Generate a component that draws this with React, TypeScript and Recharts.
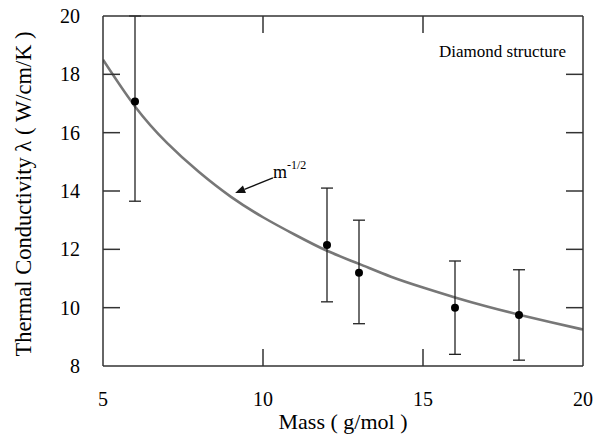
import React from 'react';
import { ComposedChart, XAxis, YAxis, Line, Scatter, ErrorBar, ReferenceLine, ReferenceDot } from 'recharts';

const massPoints = [6, 12, 13, 16, 18];
const conductivity = [17.07, 12.15, 11.2, 10.0, 9.75];
const errLow = [3.42, 1.95, 1.75, 1.6, 1.55];
const errHigh = [2.93, 1.95, 1.8, 1.6, 1.55];

const curveMass = [5, 6, 7, 8, 9, 10, 11, 12, 13, 14, 15, 16, 17, 18, 19, 20];
const curveValues = [18.5, 16.9, 15.65, 14.65, 13.8, 13.1, 12.5, 11.95, 11.5, 11.06, 10.69, 10.35, 10.04, 9.76, 9.5, 9.25];

const xTicks = [5, 10, 15, 20];
const yTicks = [8, 10, 12, 14, 16, 18, 20];

const scatterData = massPoints.map((m, i) => ({ x: m, y: conductivity[i], err: [errLow[i], errHigh[i]] }));
const curveData = curveMass.map((m, i) => ({ x: m, y: curveValues[i] }));

const FONT = '"Liberation Serif", "Times New Roman", serif';
const AX = '#333';
const TXT = '#000';
const TICK_LEN = 17;

const BottomTick = (props: any) => {
  const { x, y, payload } = props;
  const v = payload.value;
  const edge = v === 5 || v === 20;
  return (
    <g>
      {!edge && <line x1={x} x2={x} y1={y} y2={y - TICK_LEN} stroke={AX} strokeWidth={1.5} />}
      <text x={x} y={y + 40} textAnchor="middle" fontFamily={FONT} fontSize={20} fill={TXT}>{v}</text>
    </g>
  );
};
const TopTick = (props: any) => {
  const { x, payload } = props;
  const v = payload.value;
  if (v === 5 || v === 20) return <g />;
  return <line x1={x} x2={x} y1={16} y2={16 + TICK_LEN} stroke={AX} strokeWidth={1.5} />;
};
const LeftTick = (props: any) => {
  const { x, y, payload } = props;
  const v = payload.value;
  const edge = v === 8 || v === 20;
  return (
    <g>
      {!edge && <line x1={x} x2={x + TICK_LEN} y1={y} y2={y} stroke={AX} strokeWidth={1.5} />}
      <text x={x - 23} y={y + 7} textAnchor="end" fontFamily={FONT} fontSize={20} fill={TXT}>{v}</text>
    </g>
  );
};
const RightTick = (props: any) => {
  const { y, payload } = props;
  const v = payload.value;
  if (v === 8 || v === 20) return <g />;
  return <line x1={583} x2={583 - TICK_LEN} y1={y} y2={y} stroke={AX} strokeWidth={1.5} />;
};

const YLabel = (props: any) => {
  const vb = props.viewBox || { x: 0, y: 16, width: 103, height: 350 };
  const cx = 23;
  const cy = vb.y + vb.height / 2 + 3;
  return (
    <text x={cx} y={cy} transform={`rotate(-90, ${cx}, ${cy})`} textAnchor="middle" dominantBaseline="central"
      fontFamily={FONT} fontSize={22.5} fill={TXT}>Thermal Conductivity  {'\u03bb'}  ( W/cm/K )</text>
  );
};

const Arrow = (props: any) => {
  const { x1, y1, x2, y2 } = props;
  const ang = Math.atan2(y1 - y2, x1 - x2);
  const L = 10, W = 4;
  const bx = x1 - L * Math.cos(ang), by = y1 - L * Math.sin(ang);
  const px = -Math.sin(ang) * W, py = Math.cos(ang) * W;
  return (
    <g>
      <line x1={x2} y1={y2} x2={bx} y2={by} stroke="#111" strokeWidth={1.4} />
      <polygon points={`${x1},${y1} ${bx + px},${by + py} ${bx - px},${by - py}`} fill="#111" />
    </g>
  );
};

const MLabel = (props: any) => {
  const { cx, cy } = props;
  return (
    <text x={cx} y={cy} fontFamily={FONT} fontSize={18} fill={TXT}>
      m<tspan dy={-9} fontSize={12}>-1/2</tspan>
    </text>
  );
};
const DiamondLabel = (props: any) => {
  const { cx, cy } = props;
  return (
    <text x={cx} y={cy} fontFamily={FONT} fontSize={17} fill={TXT}>Diamond structure</text>
  );
};

export default function App() {
  return (
    <div style={{ position: 'absolute', left: 0, top: 0, width: 602, height: 436, background: '#fff' }}>
      <ComposedChart width={602} height={436} margin={{ top: 15, right: 18, left: 0, bottom: 0 }}>
        <XAxis xAxisId="b" dataKey="x" type="number" domain={[5, 20]} ticks={xTicks} height={70}
          allowDataOverflow tick={<BottomTick />} tickLine={false} tickSize={0} tickMargin={0}
          axisLine={{ stroke: AX, strokeWidth: 1.5 }}
          label={{ value: 'Mass ( g/mol )', position: 'insideBottom', offset: 7, style: { fontFamily: FONT, fontSize: 22, fill: TXT } }} />
        <XAxis xAxisId="t" orientation="top" dataKey="x" type="number" domain={[5, 20]} ticks={xTicks} height={1}
          allowDataOverflow tick={<TopTick />} tickLine={false} tickSize={0} tickMargin={0}
          axisLine={{ stroke: AX, strokeWidth: 1.5 }} />
        <YAxis yAxisId="l" type="number" domain={[8, 20]} ticks={yTicks} width={103}
          allowDataOverflow tick={<LeftTick />} tickLine={false} tickSize={0} tickMargin={0}
          axisLine={{ stroke: AX, strokeWidth: 1.5 }}
          label={<YLabel />} />
        <YAxis yAxisId="r" orientation="right" type="number" domain={[8, 20]} ticks={yTicks} width={1}
          allowDataOverflow tick={<RightTick />} tickLine={false} tickSize={0} tickMargin={0}
          axisLine={{ stroke: AX, strokeWidth: 1.5 }} />
        <Line xAxisId="b" yAxisId="l" data={curveData} dataKey="y" type="natural" stroke="#777" strokeWidth={2.6}
          dot={false} activeDot={false} isAnimationActive={false} />
        <Scatter xAxisId="b" yAxisId="l" data={scatterData} dataKey="y" fill="#000" isAnimationActive={false}
          shape={(p: any) => <circle cx={p.cx} cy={p.cy} r={4} fill="#000" />}>
          <ErrorBar dataKey="err" direction="y" width={6} stroke="#222" strokeWidth={1.3} isAnimationActive={false} />
        </Scatter>
        <ReferenceLine xAxisId="b" yAxisId="l" segment={[{ x: 9.13, y: 13.93 }, { x: 10.31, y: 14.45 }]}
          shape={<Arrow />} ifOverflow="visible" />
        <ReferenceDot xAxisId="b" yAxisId="l" x={10.31} y={14.45} r={0} shape={<MLabel />} ifOverflow="visible" />
        <ReferenceDot xAxisId="b" yAxisId="l" x={15.5} y={18.59} r={0} shape={<DiamondLabel />} ifOverflow="visible" />
      </ComposedChart>
    </div>
  );
}
